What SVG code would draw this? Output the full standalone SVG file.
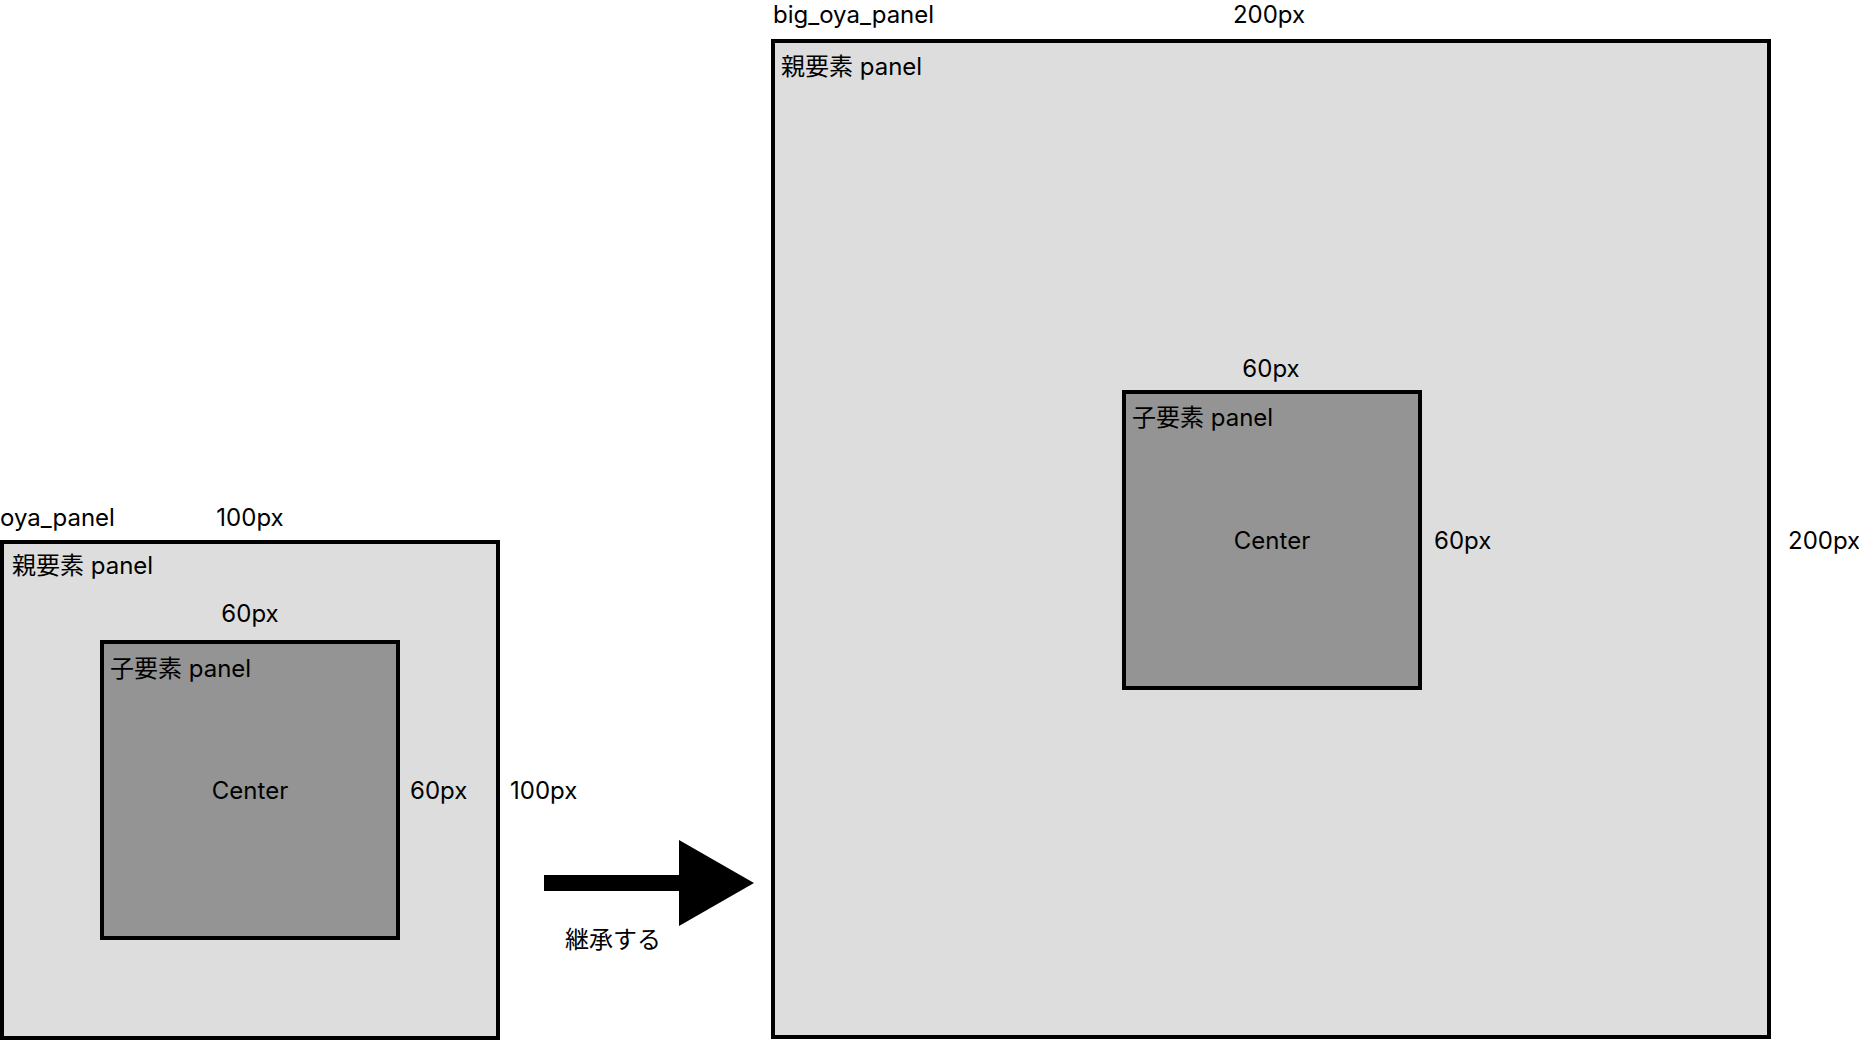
<svg xmlns="http://www.w3.org/2000/svg" width="1859" height="1040" viewBox="0 0 1859 1040">
<style>
text{font-family:Inter,"Noto Sans","Noto Sans CJK JP",sans-serif;font-size:24px;fill:#000}
.mid{text-anchor:middle}
.outer{fill:#dddddd;stroke:#000;stroke-width:4}
.inner{fill:#949494;stroke:#000;stroke-width:4}
</style>
<rect width="1859" height="1040" fill="#fff"/>
<g id="oya_panel">
<rect class="outer" x="2" y="542" width="496" height="496"/>
<text x="0" y="526">oya_panel</text>
<text class="mid" x="250" y="526">100px</text>
<text x="12" y="574">親要素 panel</text>
<text x="510" y="799">100px</text>
</g>
<g id="child_small">
<rect class="inner" x="102" y="642" width="296" height="296"/>
<text class="mid" x="250" y="622">60px</text>
<text x="110" y="677">子要素 panel</text>
<text class="mid" x="250" y="799">Center</text>
<text x="410" y="799">60px</text>
</g>
<g id="big_oya_panel">
<rect class="outer" x="773" y="41" width="996" height="996"/>
<text x="773" y="23">big_oya_panel</text>
<text class="mid" x="1269" y="23">200px</text>
<text x="781" y="75">親要素 panel</text>
<text x="1788" y="549">200px</text>
</g>
<g id="child_big">
<rect class="inner" x="1124" y="392" width="296" height="296"/>
<text class="mid" x="1271" y="377">60px</text>
<text x="1132" y="426">子要素 panel</text>
<text class="mid" x="1272" y="549">Center</text>
<text x="1434" y="549">60px</text>
</g>
<g id="connectors">
<rect x="544" y="875" width="138" height="16" fill="#000"/>
<polygon points="679,840 754,883 679,926" fill="#000"/>
<text class="mid" x="613" y="948">継承する</text>
</g>
</svg>
